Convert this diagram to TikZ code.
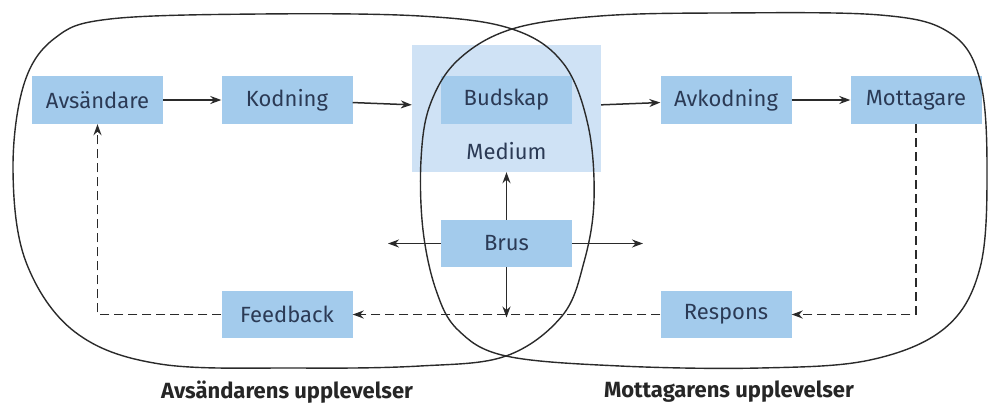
\documentclass[tikz,border=0pt]{standalone}
\usepackage{fontspec}
\setmainfont{Fira Sans}
\usetikzlibrary{arrows.meta}
\definecolor{boxblue}{HTML}{A3CBEC}
\definecolor{medblue}{HTML}{CFE2F5}
\definecolor{txt}{HTML}{2B3A55}
\definecolor{linec}{HTML}{2A2A2A}
\tikzset{
  stepbox/.style={fill=boxblue, minimum width=131pt, minimum height=48pt, inner sep=0pt,
    text=txt, font=\fontsize{22}{26}\selectfont},
  arr/.style={draw=linec, line width=1.5pt, -{Stealth[length=11pt,width=8pt]}},
  darr/.style={arr, dash pattern=on 9pt off 5pt},
  blob/.style={draw=linec, line width=1.4pt},
  caption/.style={font=\fontsize{22}{26}\selectfont\bfseries, text=black!85}
}
\begin{document}
\begin{tikzpicture}[x=1pt,y=-1pt]
\useasboundingbox (0,0) rectangle (988,405);
% medium background
\node[fill=medblue, minimum width=189pt, minimum height=127pt, inner sep=0pt] (med) at (506.5,108.5) {};
\node[text=txt, font=\fontsize{22}{26}\selectfont] (medlab) at (506.5,151) {Medium};
% boxes
\node[stepbox] (avs) at (97.5,100) {Avsändare};
\node[stepbox] (kod) at (287,100) {Kodning};
\node[stepbox] (bud) at (506.5,100) {Budskap};
\node[stepbox] (avk) at (726,100) {Avkodning};
\node[stepbox] (mot) at (916,100) {Mottagare};
\node[stepbox, minimum height=47pt] (brus) at (506.5,243.5) {Brus};
\node[stepbox, minimum height=47pt] (fb) at (287,314.5) {Feedback};
\node[stepbox, minimum height=47pt] (resp) at (726,314.5) {Respons};
% blobs
\draw[blob] plot[smooth cycle, tension=0.6] coordinates {
  (110,19) (260,14) (420,16) (512,29) (563,63) (588,125) (594,200) (584,262) (562,316)
  (506,356) (420,366) (300,368) (160,364) (75,332) (26,262) (13,170) (24,84) (55,38)};
\draw[blob] plot[smooth cycle, tension=0.6] coordinates {
  (512,29) (600,16) (720,13) (880,15) (950,33) (980,80) (987,170) (980,268) (945,328)
  (870,360) (760,368) (620,366) (506,356) (458,330) (436,290) (423,230) (421,160) (430,105) (458,60)};
% arrows
\draw[arr] (avs) -- (kod);
\draw[arr] (kod) -- (med);
\draw[arr] (med) -- (avk);
\draw[arr] (avk) -- (mot);
\draw[darr] (mot.south) |- (resp.east);
\draw[darr] (resp.west) -- (fb.east);
\draw[darr] (fb.west) -| (avs.south);
\coordinate (bl) at (388,243.5);
\coordinate (br) at (643,243.5);
\coordinate (bd) at (brus.south |- fb.east);
\draw[arr] (brus.north) -- (med.south);
\draw[arr] (brus.west) -- (bl);
\draw[arr] (brus.east) -- (br);
\draw[arr] (brus.south) -- ([yshift=-3pt]bd);
% captions
\node[caption] (c1) at (287,392) {Avsändarens upplevelser};
\node[caption] (c2) at (729,392) {Mottagarens upplevelser};
\end{tikzpicture}
\end{document}
